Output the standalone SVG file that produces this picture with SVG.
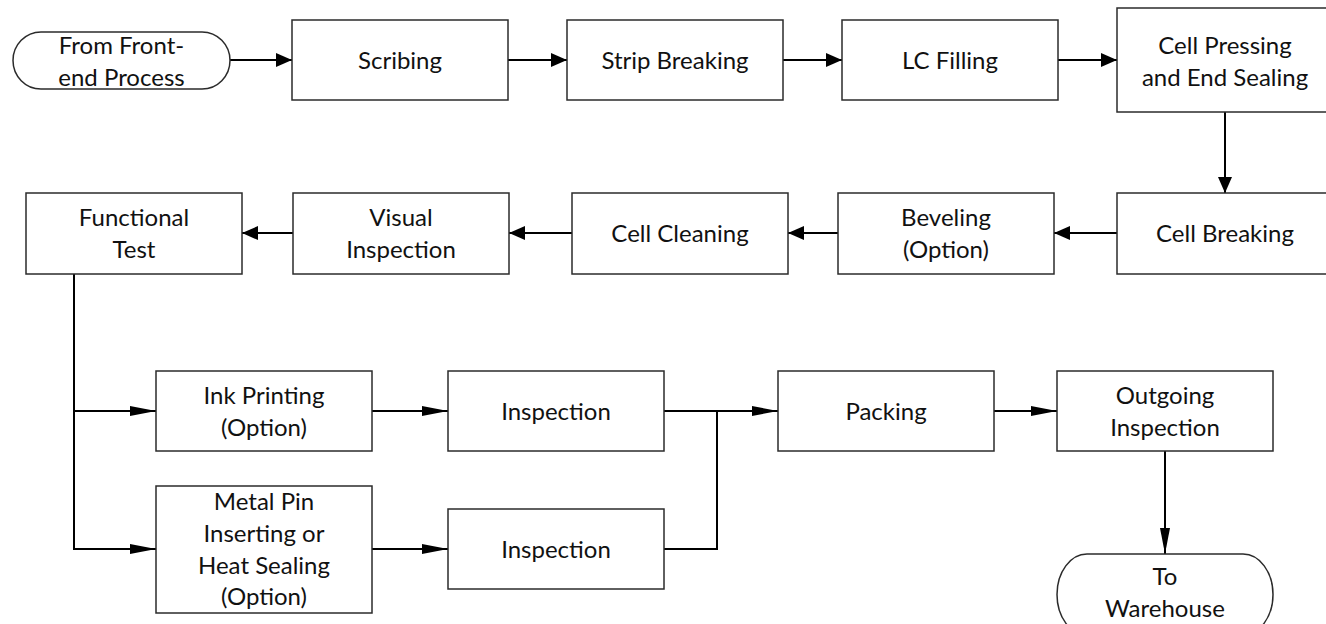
<svg xmlns="http://www.w3.org/2000/svg" width="1326" height="624" viewBox="0 0 1326 624">
<style>
  .box { fill: #ffffff; stroke: #2b2b2b; stroke-width: 1.5; }
  .term { fill: #ffffff; stroke: #2b2b2b; stroke-width: 1.5; }
  .lbl { font-family: "Lato", "Open Sans", "Liberation Sans", sans-serif; font-size: 24px; fill: #111111; text-anchor: middle; }
  .con { fill: none; stroke: #000000; stroke-width: 2; }
  .a { marker-end: url(#arrA); }
  .b { marker-end: url(#arrB); }
</style>
<defs>
  <marker id="arrA" markerUnits="userSpaceOnUse" markerWidth="16" markerHeight="14" refX="16" refY="7" orient="auto" overflow="visible">
    <path d="M0,0 L16,7 L0,14 Z" fill="#000000"/>
  </marker>
  <marker id="arrB" markerUnits="userSpaceOnUse" markerWidth="26" markerHeight="10" refX="26" refY="5" orient="auto" overflow="visible">
    <path d="M0,0 L26,5 L0,10 Z" fill="#000000"/>
  </marker>
</defs>
<rect x="0" y="0" width="1326" height="624" fill="#ffffff"/>

<g id="connectors">
  <line class="con a" x1="230" y1="60" x2="292" y2="60"/>
  <line class="con a" x1="508" y1="60" x2="567" y2="60"/>
  <line class="con a" x1="783" y1="60" x2="842" y2="60"/>
  <line class="con a" x1="1058" y1="60" x2="1117" y2="60"/>
  <line class="con a" x1="1225" y1="112" x2="1225" y2="193"/>
  <line class="con a" x1="1117" y1="233" x2="1054" y2="233"/>
  <line class="con a" x1="838" y1="233" x2="788" y2="233"/>
  <line class="con a" x1="572" y1="233" x2="509" y2="233"/>
  <line class="con a" x1="293" y1="233" x2="242" y2="233"/>
  <polyline class="con b" points="74,273 74,549 156,549"/>
  <line class="con b" x1="74" y1="411" x2="156" y2="411"/>
  <line class="con b" x1="372" y1="411" x2="448" y2="411"/>
  <line class="con b" x1="372" y1="549" x2="448" y2="549"/>
  <line class="con b" x1="664" y1="411" x2="778" y2="411"/>
  <polyline class="con" points="664,549 717,549 717,411"/>
  <line class="con b" x1="994" y1="411" x2="1057" y2="411"/>
  <line class="con b" x1="1165" y1="451" x2="1165" y2="554"/>
</g>

<g id="from-front-end">
  <path class="term" d="M41,32 L202,32 A28,28.5 0 0 1 202,89 L41,89 A28,28.5 0 0 1 41,32 Z"/>
  <text class="lbl" x="121.5" y="54">From Front-</text>
  <text class="lbl" x="121.5" y="86">end Process</text>
</g>
<g id="scribing">
  <rect class="box" x="292" y="20" width="216" height="80"/>
  <text class="lbl" x="400" y="69">Scribing</text>
</g>
<g id="strip-breaking">
  <rect class="box" x="567" y="20" width="216" height="80"/>
  <text class="lbl" x="675" y="69">Strip Breaking</text>
</g>
<g id="lc-filling">
  <rect class="box" x="842" y="20" width="216" height="80"/>
  <text class="lbl" x="950" y="69">LC Filling</text>
</g>
<g id="cell-pressing">
  <rect class="box" x="1117" y="8" width="216" height="104"/>
  <text class="lbl" x="1225" y="54">Cell Pressing</text>
  <text class="lbl" x="1225" y="86">and End Sealing</text>
</g>
<g id="cell-breaking">
  <rect class="box" x="1117" y="193" width="216" height="81"/>
  <text class="lbl" x="1225" y="242">Cell Breaking</text>
</g>
<g id="beveling">
  <rect class="box" x="838" y="193" width="216" height="81"/>
  <text class="lbl" x="946" y="226">Beveling</text>
  <text class="lbl" x="946" y="258">(Option)</text>
</g>
<g id="cell-cleaning">
  <rect class="box" x="572" y="193" width="216" height="81"/>
  <text class="lbl" x="680" y="242">Cell Cleaning</text>
</g>
<g id="visual-inspection">
  <rect class="box" x="293" y="193" width="216" height="81"/>
  <text class="lbl" x="401" y="226">Visual</text>
  <text class="lbl" x="401" y="258">Inspection</text>
</g>
<g id="functional-test">
  <rect class="box" x="26" y="193" width="216" height="81"/>
  <text class="lbl" x="134" y="226">Functional</text>
  <text class="lbl" x="134" y="258">Test</text>
</g>
<g id="ink-printing">
  <rect class="box" x="156" y="371" width="216" height="80"/>
  <text class="lbl" x="264" y="404">Ink Printing</text>
  <text class="lbl" x="264" y="436">(Option)</text>
</g>
<g id="inspection-1">
  <rect class="box" x="448" y="371" width="216" height="80"/>
  <text class="lbl" x="556" y="420">Inspection</text>
</g>
<g id="metal-pin">
  <rect class="box" x="156" y="486" width="216" height="127"/>
  <text class="lbl" x="264" y="510">Metal Pin</text>
  <text class="lbl" x="264" y="542">Inserting or</text>
  <text class="lbl" x="264" y="574">Heat Sealing</text>
  <text class="lbl" x="264" y="605">(Option)</text>
</g>
<g id="inspection-2">
  <rect class="box" x="448" y="509" width="216" height="80"/>
  <text class="lbl" x="556" y="558">Inspection</text>
</g>
<g id="packing">
  <rect class="box" x="778" y="371" width="216" height="80"/>
  <text class="lbl" x="886" y="420">Packing</text>
</g>
<g id="outgoing-inspection">
  <rect class="box" x="1057" y="371" width="216" height="80"/>
  <text class="lbl" x="1165" y="404">Outgoing</text>
  <text class="lbl" x="1165" y="436">Inspection</text>
</g>
<g id="to-warehouse">
  <path class="term" d="M1087,554 L1243,554 A30,40.5 0 0 1 1243,635 L1087,635 A30,40.5 0 0 1 1087,554 Z"/>
  <text class="lbl" x="1165" y="585">To</text>
  <text class="lbl" x="1165" y="617">Warehouse</text>
</g>
</svg>
